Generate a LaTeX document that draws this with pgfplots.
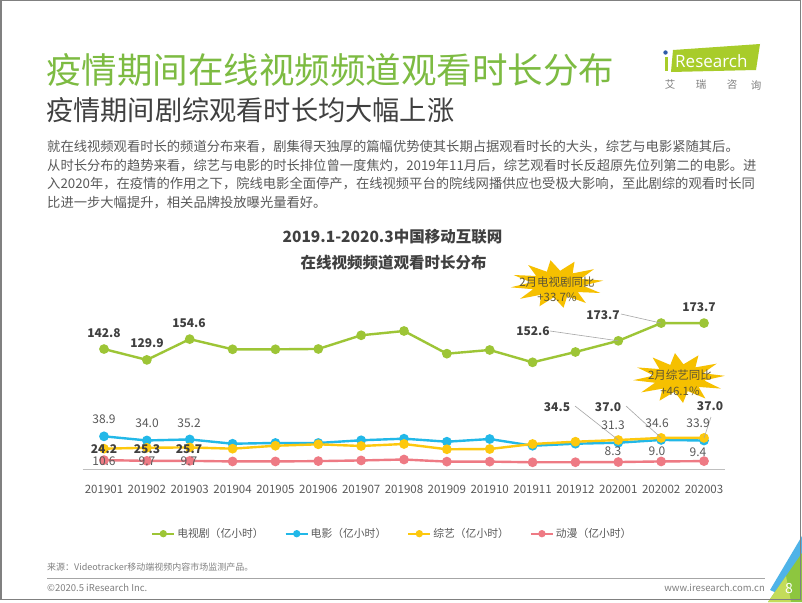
\documentclass[border=0pt]{standalone}
\usepackage{fontspec}
\setmainfont{Noto Sans CJK SC}
\newfontfamily\logofont{Open Sans}
\usepackage{pgfplots}
\pgfplotsset{compat=1.18}
\usepackage{pgfplotstable}
\usetikzlibrary{shapes.geometric}

\definecolor{titlegreen}{HTML}{7DBB42}
\definecolor{tvgreen}{HTML}{9DC536}
\definecolor{filmblue}{HTML}{22B8E8}
\definecolor{varyellow}{HTML}{FDC80E}
\definecolor{animered}{HTML}{EE7A84}
\definecolor{stargold}{HTML}{F6C000}
\definecolor{startext}{HTML}{5E5535}
\definecolor{txtdark}{HTML}{404040}
\definecolor{txtgray}{HTML}{595959}
\definecolor{lightgray}{HTML}{808080}
\definecolor{axisgray}{HTML}{BFBFBF}
\definecolor{leadgray}{HTML}{A6A6A6}
\definecolor{logogreen}{HTML}{A8CC2A}
\definecolor{logoblue}{HTML}{2E5AA8}
\definecolor{cornerblue}{HTML}{4FB3E8}
\definecolor{cornergreen}{HTML}{8DC63F}
\definecolor{cornerlight}{HTML}{C3DC5A}

% month index, TV drama, film, variety, anime (100 million hours)
\pgfplotstableread{
x  tv     film  variety anime
0  142.8  38.9  24.2    10.6
1  129.9  34.0  25.3    9.7
2  154.6  35.2  25.7    9.7
3  142.5  30.1  24.2    9.0
4  142.5  31.0  27.7    9.0
5  142.9  31.0  29.4    9.4
6  159.2  34.2  27.4    10.2
7  164.3  36.1  29.8    11.3
8  137.3  32.5  23.5    8.8
9  141.7  35.7  23.8    8.8
10 127.0  27.7  29.8    8.0
11 139.3  30.1  32.5    8.1
12 152.6  31.3  34.5    8.3
13 173.7  34.6  37.0    9.0
14 173.7  33.9  37.0    9.4
}\datatab

\begin{document}
\begin{tikzpicture}
\begin{scope}[x=1pt,y=-1pt]
\path[use as bounding box] (0,0) rectangle (802,602);
\fill[white] (0,0) rectangle (802,602);

% header
\node[anchor=west,inner sep=0,text=titlegreen,font=\fontsize{35.5}{40}\selectfont] at (46,70) {疫情期间在线视频频道观看时长分布};
\node[anchor=west,inner sep=0,text=txtdark,font=\fontsize{27.2}{30}\selectfont] at (46,110) {疫情期间剧综观看时长均大幅上涨};
\begin{scope}[every node/.style={anchor=west,inner sep=0,text=txtgray,font=\fontsize{13.3}{16}\selectfont}]
\node at (47,147) {就在线视频观看时长的频道分布来看，剧集得天独厚的篇幅优势使其长期占据观看时长的大头，综艺与电影紧随其后。};
\node at (47,165.5) {从时长分布的趋势来看，综艺与电影的时长排位曾一度焦灼，2019年11月后，综艺观看时长反超原先位列第二的电影。进};
\node at (47,184) {入2020年，在疫情的作用之下，院线电影全面停产，在线视频平台的院线网播供应也受极大影响，至此剧综的观看时长同};
\node at (47,202.5) {比进一步大幅提升，相关品牌投放曝光量看好。};
\end{scope}

% logo
\fill[logogreen] (673,50) -- (760,44) -- (756,70) -- (671,72) -- cycle;
\fill[logogreen] (664.5,57) rectangle (668,71);
\fill[logoblue] (665.5,52.5) circle (2.2);
\node[anchor=west,inner sep=0,text=white,font=\logofont\fontsize{17}{20}\selectfont] at (675,61) {Research};
\begin{scope}[every node/.style={inner sep=0,text=lightgray,font=\fontsize{10.5}{12}\selectfont}]
\node at (670,85) {艾};
\node at (701,85) {瑞};
\node at (732,85) {咨};
\node at (756,85) {询};
\end{scope}

% chart title
\node[inner sep=0,text=txtdark,font=\bfseries\fontsize{15.5}{18}\selectfont] at (392.5,237) {2019.1-2020.3中国移动互联网};
\node[inner sep=0,text=txtdark,font=\bfseries\fontsize{15.5}{18}\selectfont] at (393.5,263) {在线视频频道观看时长分布};

% starbursts
\begin{scope}[shift={(557,284)},xscale=1.95]
\node[star,star points=12,star point ratio=1.8,minimum size=48pt,inner sep=0,fill=stargold,transform shape,rotate=8] {};
\end{scope}
\begin{scope}[shift={(679,378)},xscale=1.84]
\node[star,star points=12,star point ratio=1.8,minimum size=50pt,inner sep=0,fill=stargold,transform shape,rotate=5] {};
\end{scope}
\begin{scope}[every node/.style={inner sep=0,text=startext,font=\fontsize{11.5}{13}\selectfont}]
\node at (557,282) {2月电视剧同比};
\node at (557,297) {+33.7\%};
\node at (680,375) {2月综艺同比};
\node at (680,391) {+46.1\%};
\end{scope}
\end{scope}

\begin{axis}[
  at={(82.57pt,-469pt)}, anchor=south west,
  scale only axis, width=642.86pt, height=168pt,
  xmin=-0.5, xmax=14.5, ymin=0, ymax=200,
  axis x line*=bottom, axis y line=none,
  axis line style={draw=axisgray,line width=0.9pt},
  xtick={0,...,14},
  xticklabels={201901,201902,201903,201904,201905,201906,201907,201908,201909,201910,201911,201912,202001,202002,202003},
  xtick style={draw=none},
  xticklabel style={font=\fontsize{11.5}{13}\selectfont,text=txtgray,yshift=-13pt},
  ytick=\empty,
  clip=false,
  every axis plot/.append style={line width=2.4pt, mark=*, mark size=3.6pt},
  legend columns=4,
  legend style={at={(0.482,-0.385)},anchor=center,draw=none,fill=none,
    font=\fontsize{10.8}{12}\selectfont,text=txtgray,inner sep=0pt,
    /tikz/every even column/.append style={column sep=19pt}},
  legend image code/.code={\draw[#1,line width=2pt,mark size=2.6pt,mark repeat=2,mark phase=2] plot coordinates {(0pt,0pt) (11pt,0pt) (22pt,0pt)};},
]
\addplot[color=tvgreen] table[x=x,y=tv] {\datatab};
\addlegendentry{电视剧（亿小时）}
\addplot[color=filmblue] table[x=x,y=film] {\datatab};
\addlegendentry{电影（亿小时）}
\addplot[color=varyellow] table[x=x,y=variety] {\datatab};
\addlegendentry{综艺（亿小时）}
\addplot[color=animered] table[x=x,y=anime] {\datatab};
\addlegendentry{动漫（亿小时）}
\coordinate (tv12) at (axis cs:12,152.6);
\coordinate (tv13) at (axis cs:13,173.7);
\coordinate (va12) at (axis cs:12,34.5);
\coordinate (va13) at (axis cs:13,37.0);
\coordinate (va14) at (axis cs:14,37.0);
\end{axis}

\begin{scope}[x=1pt,y=-1pt]
% leader lines
\draw[leadgray,line width=0.6pt] (550,331) -- (tv12);
\draw[leadgray,line width=0.6pt] (621,314) -- (tv13);
\draw[leadgray,line width=0.6pt] (575,406) -- (va12);
\draw[leadgray,line width=0.6pt] (626,406) -- (va13);
\draw[leadgray,line width=0.6pt] (711,417) -- (va14);

% data labels
\begin{scope}[every node/.style={inner sep=0,text=txtdark,font=\bfseries\fontsize{12}{14}\selectfont}]
\node at (104,333) {142.8};
\node at (147,343) {129.9};
\node at (189,323) {154.6};
\node at (533,331) {152.6};
\node at (603,315) {173.7};
\node at (699,307) {173.7};
\node at (104,449) {24.2};
\node at (147,449) {25.3};
\node at (189,449) {25.7};
\node at (557,407) {34.5};
\node at (608,407) {37.0};
\node at (710,406) {37.0};
\end{scope}
\begin{scope}[every node/.style={inner sep=0,text=txtgray,font=\fontsize{12}{14}\selectfont}]
\node at (104,419) {38.9};
\node at (147,423) {34.0};
\node at (189,423) {35.2};
\node at (613,425) {31.3};
\node at (657,423) {34.6};
\node at (698,423) {33.9};
\node at (104,461) {10.6};
\node at (147,461) {9.7};
\node at (189,461) {9.7};
\node at (613,451) {8.3};
\node at (657,451) {9.0};
\node at (698,452) {9.4};
\end{scope}

% footer
\node[anchor=west,inner sep=0,text=lightgray,font=\fontsize{9}{11}\selectfont] at (47,567) {来源：Videotracker移动端视频内容市场监测产品。};
\draw[leadgray,line width=0.8pt] (47,578) -- (765,578);
\node[anchor=west,inner sep=0,text=lightgray,font=\fontsize{9.5}{11}\selectfont] at (47,588) {©2020.5 iResearch Inc.};
\node[anchor=east,inner sep=0,text=lightgray,font=\fontsize{9.5}{11}\selectfont] at (765,588) {www.iresearch.com.cn};

% corner decoration
\fill[cornerblue] (802,536) -- (802,556) -- (779,594) -- (770,590) -- cycle;
\fill[cornergreen] (802,553) -- (802,602) -- (768,602) -- cycle;
\fill[cornerlight] (768,602) -- (786,576) -- (791,602) -- cycle;
\node[inner sep=0,text=white,font=\fontsize{14}{16}\selectfont] at (789,588) {8};

% frame
\draw[lightgray,line width=1.5pt] (0.75,0.75) rectangle (800.5,599.5);
\end{scope}
\end{tikzpicture}
\end{document}
